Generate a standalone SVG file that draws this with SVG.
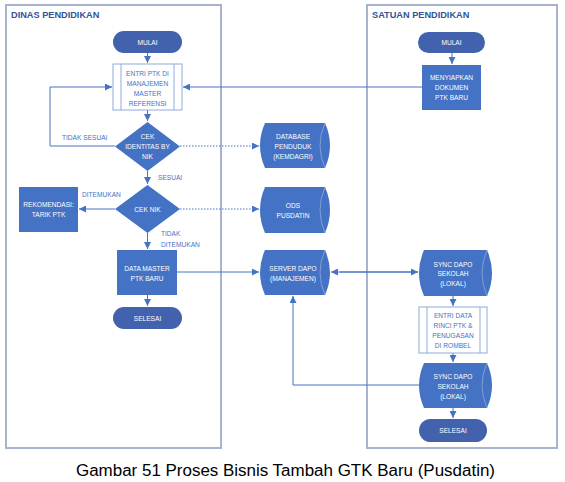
<svg xmlns="http://www.w3.org/2000/svg" width="565" height="482" viewBox="0 0 565 482">
<defs>
<style>
.lane{fill:#fff;stroke:#a8b3d0;stroke-width:2}
.title{font-family:"Liberation Sans",Arial,sans-serif;font-size:9.2px;font-weight:bold;fill:#2f5597}
.term{fill:#4262ad}
.box{fill:#4472c4}
.pp{fill:#fff;stroke:#8faadc;stroke-width:1}
.ppl{stroke:#8faadc;stroke-width:1}
.cyl{fill:#4472c4}
.cyli{fill:none;stroke:#8faadc;stroke-width:0.8}
.wt{font-family:"Liberation Sans",Arial,sans-serif;font-size:6.6px;fill:#fff;text-anchor:middle}
.bt{font-family:"Liberation Sans",Arial,sans-serif;font-size:6.6px;fill:#4472c4;text-anchor:middle}
.lb{font-family:"Liberation Sans",Arial,sans-serif;font-size:6.6px;fill:#4472c4}
.c{fill:none;stroke:#4472c4;stroke-width:1}
.d{fill:none;stroke:#4472c4;stroke-width:1;stroke-dasharray:1.5,1.5}
.cap{font-family:"Liberation Sans",Arial,sans-serif;font-size:16px;fill:#000;text-anchor:middle}
</style>
<marker id="a" viewBox="0 0 10 10" refX="10" refY="5" markerWidth="7" markerHeight="7" markerUnits="userSpaceOnUse" orient="auto">
<path d="M0,0 L10,5 L0,10 Z" fill="#4472c4"/>
</marker>
</defs>
<rect width="565" height="482" fill="#fff"/>
<g id="lane-dinas">
<rect class="lane" x="6" y="5" width="215" height="443"/>
<text class="title" x="11" y="17.5">DINAS PENDIDIKAN</text>
</g>
<g id="lane-satuan">
<rect class="lane" x="367" y="5" width="190" height="443"/>
<text class="title" x="372" y="17.5">SATUAN PENDIDIKAN</text>
</g>
<g id="connectors">
<path class="c" d="M147.5,53 V63" marker-end="url(#a)"/>
<path class="c" d="M147.5,110 V121" marker-end="url(#a)"/>
<path class="c" d="M147.5,171 V184" marker-end="url(#a)"/>
<path class="c" d="M147.5,233 V249" marker-end="url(#a)"/>
<path class="c" d="M147.5,295 V306" marker-end="url(#a)"/>
<path class="c" d="M115,146 H50 V87 H112" marker-end="url(#a)"/>
<path class="c" d="M115,209 H79" marker-end="url(#a)"/>
<path class="c" d="M422,87 H183" marker-end="url(#a)"/>
<path class="d" d="M180,146 H259" marker-end="url(#a)"/>
<path class="d" d="M180,209 H259" marker-end="url(#a)"/>
<path class="c" d="M177,272 H259" marker-end="url(#a)"/>
<path class="c" d="M340,272 H418" marker-end="url(#a)"/>
<path class="c" d="M418,272 H331" marker-end="url(#a)"/>
<path class="c" d="M419,385 H293 V296" marker-end="url(#a)"/>
<path class="c" d="M452,53 V64" marker-end="url(#a)"/>
<path class="c" d="M453,296 V306" marker-end="url(#a)"/>
<path class="c" d="M453,353 V362" marker-end="url(#a)"/>
<path class="c" d="M453,408 V418" marker-end="url(#a)"/>
<text class="lb" x="62" y="139.5">TIDAK SESUAI</text>
<text class="lb" x="158" y="179.5">SESUAI</text>
<text class="lb" x="82" y="196.5">DITEMUKAN</text>
<text class="lb" x="161" y="235.5">TIDAK</text>
<text class="lb" x="161" y="246.5">DITEMUKAN</text>
</g>
<g id="mulai-dinas">
<rect class="term" x="113" y="31" width="69" height="22" rx="11"/>
<text class="wt" x="147.5" y="44.5">MULAI</text>
</g>
<g id="entri-ptk">
<rect class="pp" x="113" y="64" width="69" height="46"/>
<line class="ppl" x1="121" y1="64" x2="121" y2="110"/>
<line class="ppl" x1="174" y1="64" x2="174" y2="110"/>
<text class="bt" x="147.5" y="75.5">ENTRI PTK DI</text>
<text class="bt" x="147.5" y="85.5">MANAJEMEN</text>
<text class="bt" x="147.5" y="95.5">MASTER</text>
<text class="bt" x="147.5" y="105.5">REFERENSI</text>
</g>
<g id="cek-identitas">
<polygon class="box" points="147.5,122 180,146.5 147.5,171 115,146.5"/>
<text class="wt" x="147.5" y="139">CEK</text>
<text class="wt" x="147.5" y="149">IDENTITAS BY</text>
<text class="wt" x="147.5" y="159">NIK</text>
</g>
<g id="cek-nik">
<polygon class="box" points="147.5,185 180,209 147.5,233 115,209"/>
<text class="wt" x="147.5" y="211.5">CEK NIK</text>
</g>
<g id="rekomendasi">
<rect class="box" x="19" y="187" width="59" height="45"/>
<text class="wt" x="48.5" y="206.5">REKOMENDASI:</text>
<text class="wt" x="48.5" y="216.5">TARIK PTK</text>
</g>
<g id="data-master">
<rect class="box" x="117" y="250" width="60" height="45"/>
<text class="wt" x="147" y="270.5">DATA MASTER</text>
<text class="wt" x="147" y="280.5">PTK BARU</text>
</g>
<g id="selesai-dinas">
<rect class="term" x="113" y="307" width="69" height="22" rx="11"/>
<text class="wt" x="147.5" y="320.5">SELESAI</text>
</g>
<g id="database-penduduk">
<path class="cyl" d="M265,123 H325 Q335,145.5 325,168 H265 Q255,145.5 265,123 Z"/>
<path class="cyli" d="M325,123 Q315,145.5 325,168"/>
<text class="wt" x="293" y="139">DATABASE</text>
<text class="wt" x="293" y="149">PENDUDUK</text>
<text class="wt" x="293" y="159">(KEMDAGRI)</text>
</g>
<g id="ods-pusdatin">
<path class="cyl" d="M265,187 H325 Q335,210 325,233 H265 Q255,210 265,187 Z"/>
<path class="cyli" d="M325,187 Q315,210 325,233"/>
<text class="wt" x="293" y="207.5">ODS</text>
<text class="wt" x="293" y="217.5">PUSDATIN</text>
</g>
<g id="server-dapo">
<path class="cyl" d="M265,250 H325 Q335,272.5 325,295 H265 Q255,272.5 265,250 Z"/>
<path class="cyli" d="M325,250 Q315,272.5 325,295"/>
<text class="wt" x="293" y="270.5">SERVER DAPO</text>
<text class="wt" x="293" y="280.5">(MANAJEMEN)</text>
</g>
<g id="mulai-satuan">
<rect class="term" x="418" y="32" width="67" height="21" rx="10.5"/>
<text class="wt" x="451.5" y="45">MULAI</text>
</g>
<g id="menyiapkan">
<rect class="box" x="422" y="65" width="59" height="45"/>
<text class="wt" x="451.5" y="79.5">MENYIAPKAN</text>
<text class="wt" x="451.5" y="89.5">DOKUMEN</text>
<text class="wt" x="451.5" y="99.5">PTK BARU</text>
</g>
<g id="sync-dapo-1">
<path class="cyl" d="M424,250 H487 Q497,273 487,296 H424 Q414,273 424,250 Z"/>
<path class="cyli" d="M487,250 Q477,273 487,296"/>
<text class="wt" x="453" y="266.5">SYNC DAPO</text>
<text class="wt" x="453" y="276">SEKOLAH</text>
<text class="wt" x="453" y="286">(LOKAL)</text>
</g>
<g id="entri-data">
<rect class="pp" x="419" y="307" width="68" height="46"/>
<line class="ppl" x1="427" y1="307" x2="427" y2="353"/>
<line class="ppl" x1="480" y1="307" x2="480" y2="353"/>
<text class="bt" x="453" y="317.5">ENTRI DATA</text>
<text class="bt" x="453" y="327.5">RINCI PTK &amp;</text>
<text class="bt" x="453" y="337.5">PENUGASAN</text>
<text class="bt" x="453" y="347.5">DI ROMBEL</text>
</g>
<g id="sync-dapo-2">
<path class="cyl" d="M424,363 H487 Q497,385.5 487,408 H424 Q414,385.5 424,363 Z"/>
<path class="cyli" d="M487,363 Q477,385.5 487,408"/>
<text class="wt" x="453" y="378.5">SYNC DAPO</text>
<text class="wt" x="453" y="388.5">SEKOLAH</text>
<text class="wt" x="453" y="398.5">(LOKAL)</text>
</g>
<g id="selesai-satuan">
<rect class="term" x="419" y="419" width="68" height="23" rx="11.5"/>
<text class="wt" x="453" y="433">SELESAI</text>
</g>
<g id="caption">
<text class="cap" x="285.5" y="476" textLength="419" lengthAdjust="spacingAndGlyphs">Gambar 51 Proses Bisnis Tambah GTK Baru (Pusdatin)</text>
</g>
</svg>
